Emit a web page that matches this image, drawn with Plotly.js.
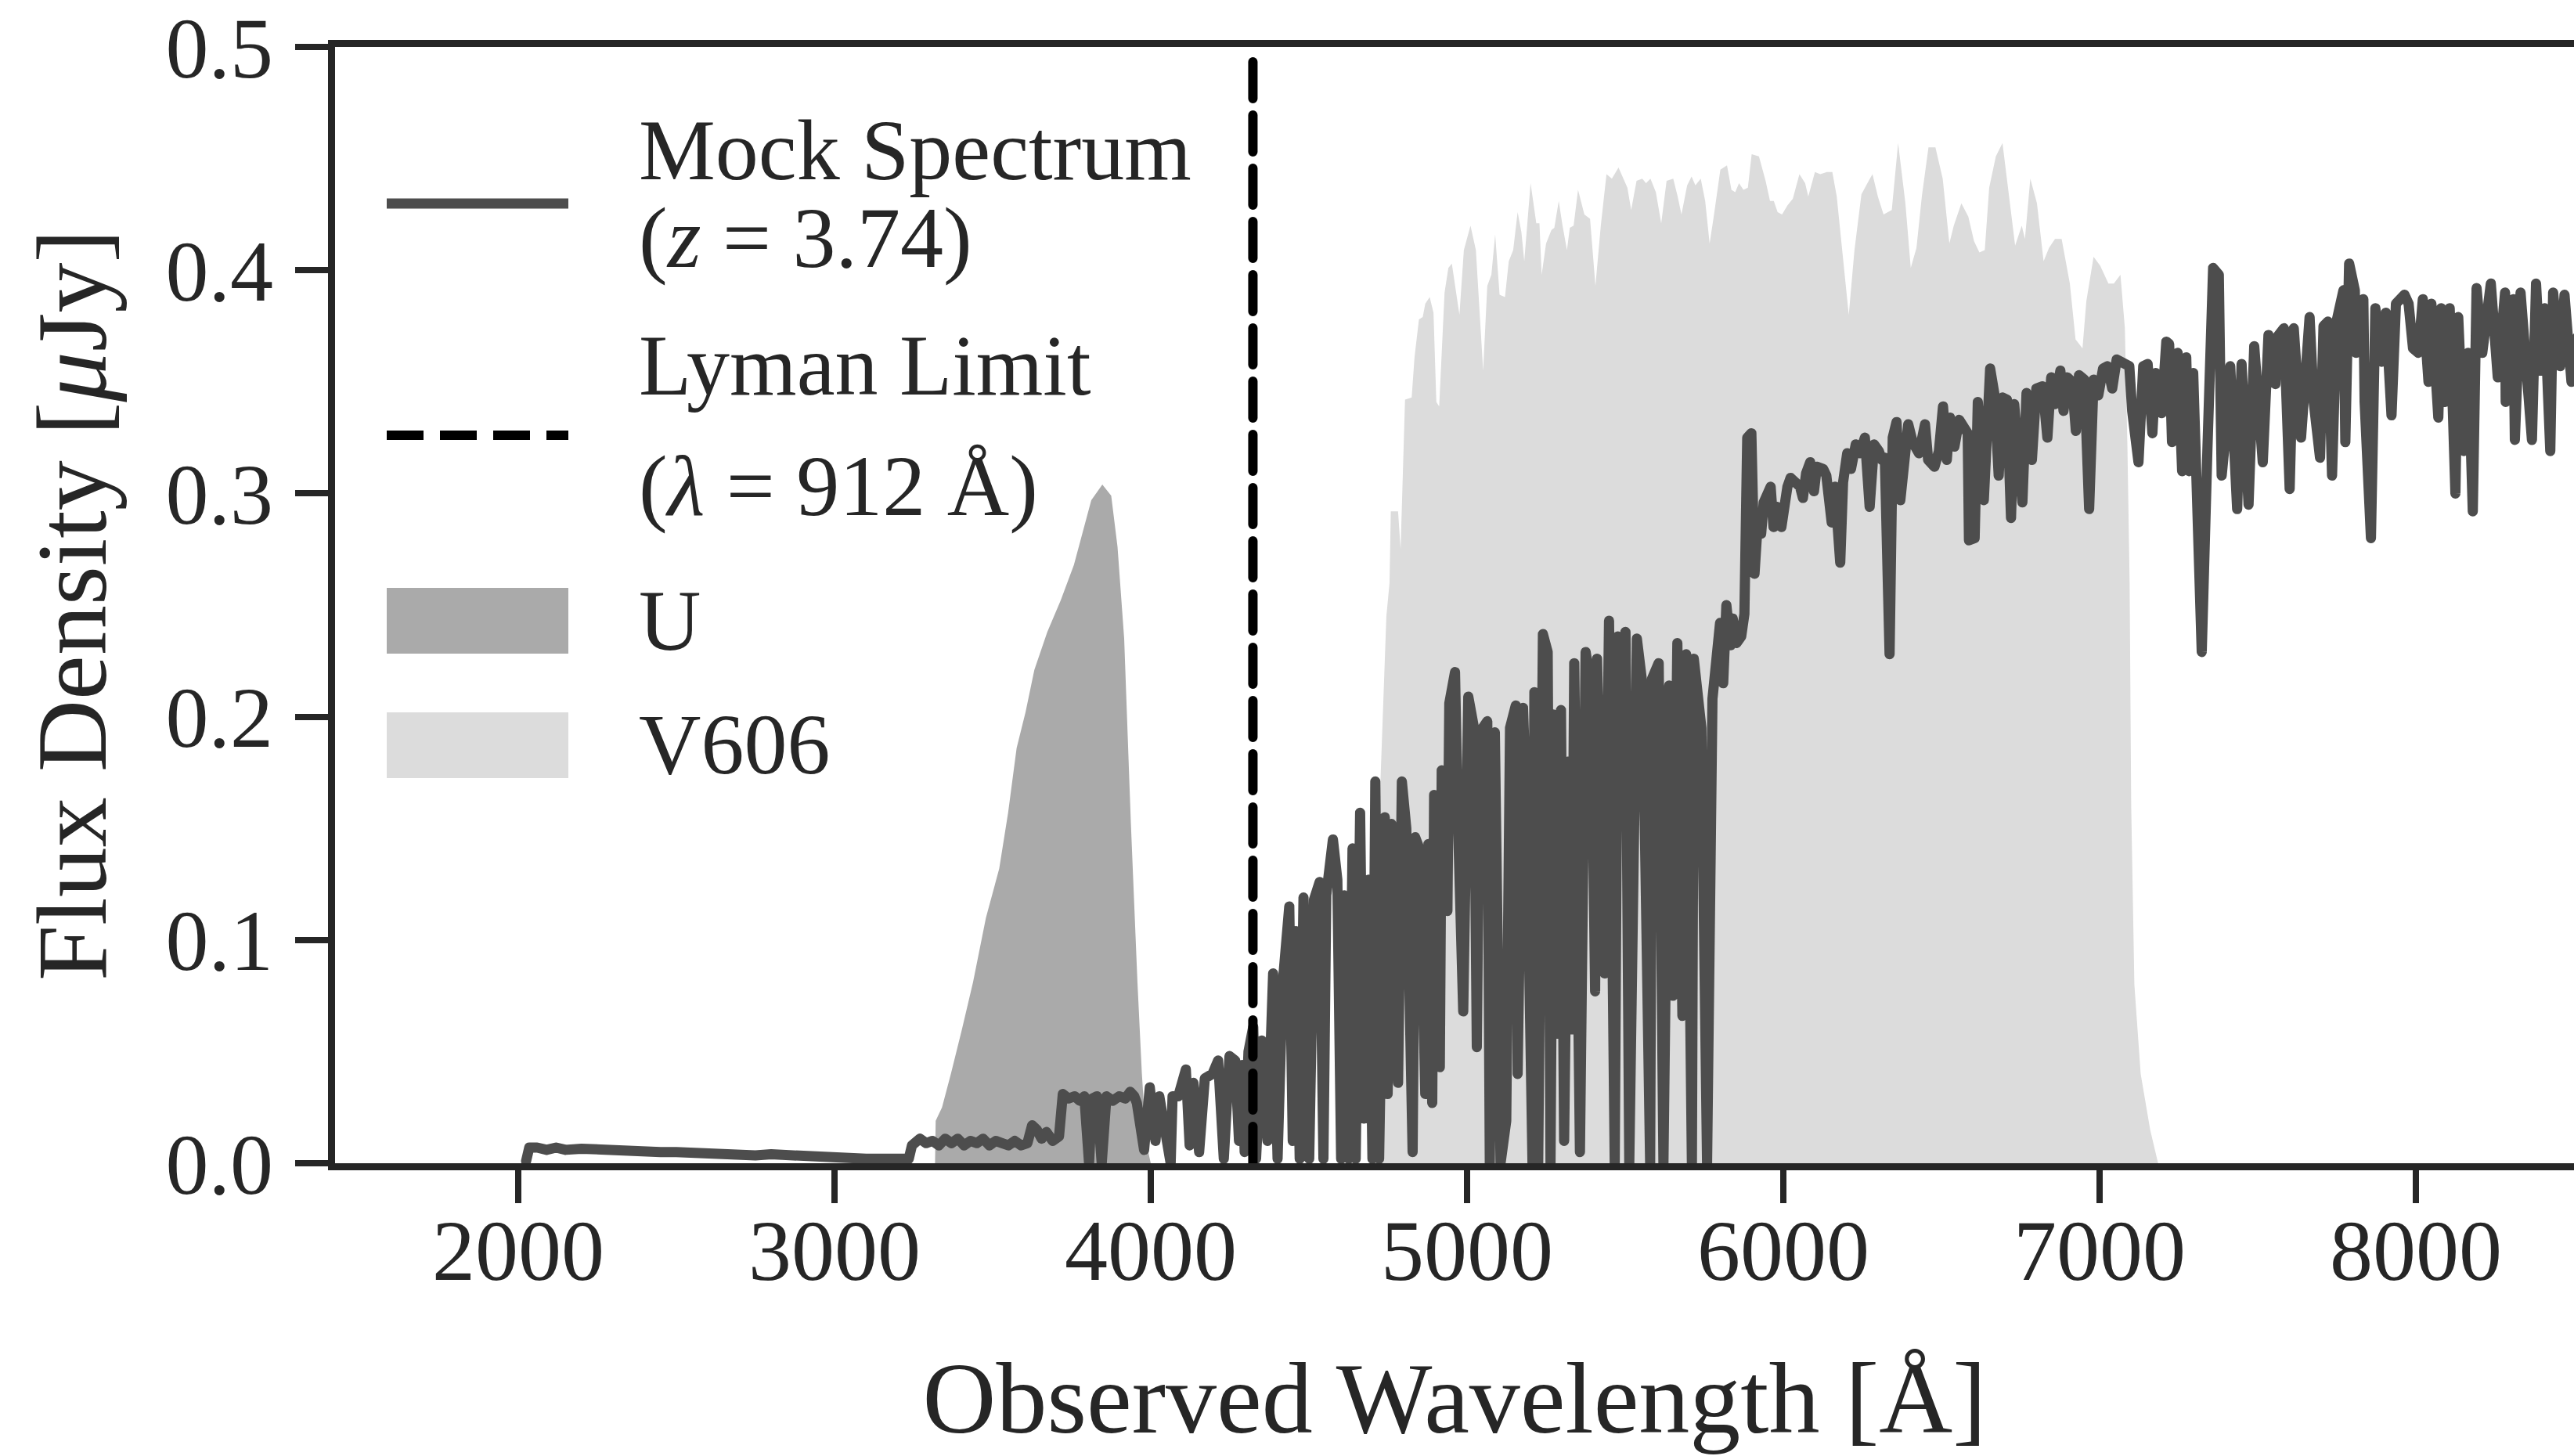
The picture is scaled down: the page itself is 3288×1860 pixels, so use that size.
<!DOCTYPE html>
<html><head><meta charset="utf-8">
<script src="https://cdn.plot.ly/plotly-3.0.1.min.js"></script>
<style>
html,body{margin:0;padding:0;background:#fff;}
#chart{width:3288px;height:1860px;}
.js-line{stroke-linejoin:round;stroke-linecap:round;}
</style></head><body><div id="chart"></div><script>
// ---------------- data ----------------
const specX = [2025,2035,2060,2090,2120,2150,2200,2250,2300,2350,2400,2450,2500,2550,2600,2650,2700,2750,2800,2850,2900,2950,3000,3050,3100,3150,3200,3235,
3245,3270,3290,3310,3330,3350,3370,3390,3410,3430,3450,3470,3490,3510,3530,3550,3570,3590,3610,3625,3640,3655,3670,3690,3710,
3722,3740,3760,3775,3790,3805,3815,3830,3845,3860,3880,3900,3920,3935,3948,
3956,3979,3997,4015,4027,4063,4069,4087,4111,4123,4135,4153,4171,4195,4213,4231,4249,4267,4279,4289,4297,4309,4324,4333,4351,4369,4387,4401,4417,4438,4449,4459,4471,4483,4501,4516,4534,4546,4555,4576,4590,4602,4612,4626,4638,4648,4662,4674,4689,4701,4710,4722,4740,4749,4761,4782,4794,4808,4828,4836,4852,4868,4878,4890,4896,4914,4920,4938,4944,4962,4971,4988,5004,5022,5031,5040,5064,5072,5088,5106,5124,5136,5154,5160,5177,5189,5207,5213,5225,5240,5255,5264,5273,5285,5297,5307,5321,5331,5339,5357,5375,5393,5405,5411,5435,5449,5467,5477,5495,5501,5513,5537,5555,5579,5585,5606,5621,5639,5651,5665,5681,5693,5711,5717,5741,5759,
5776,5788,5800,5810,5820,5833,5840,5852,5867,5877,5886,5899,5909,
5921,5930,5938,5950,5960,5969,5979,5994,6004,6013,6023,6038,6053,6062,6072,6085,6097,6106,6126,6136,6145,6153,6163,6180,6189,6202,6214,6229,6241,6258,6273,6287,6302,6312,6321,6336,6346,6358,6370,6385,6395,6409,6429,6448,6458,6478,6492,6505,6517,6527,6541,6556,6571,6583,6587,6605,6615,6626,6634,6654,6668,6681,6693,6707,6720,6730,6742,6756,6769,6786,6800,6820,6835,6847,6859,6876,6886,6898,6913,6925,6935,6952,6967,6981,6996,7011,7025,7040,7054,7074,7094,7103,7123,7138,7152,7167,7177,7196,7211,
7220,7229,7247,7261,7274,7283,7296,7305,7323,7341,7359,7377,7386,7399,7413,7435,7449,7471,7489,7516,7534,7556,7561,7583,7601,7614,7637,7664,7677,7697,7708,7722,7735,7749,7771,7777,7789,7807,7811,7834,7838,7858,7872,7892,7905,7923,7937,7964,7977,7991,8008,8022,8040,8049,8071,8080,8093,8107,8125,8134,8152,8165,8180,8192,8210,8237,8259,8282,8284,8308,8313,8331,8349,8367,8380,8394,8407,8425,8434,8456,8470,8492,8510];
const specY = [0.001,0.007,0.007,0.006,0.007,0.006,0.0065,0.006,0.0055,0.006,0.0055,0.005,0.005,0.0045,0.005,0.0045,0.004,0.0035,0.004,0.0035,0.003,0.003,0.0025,0.0025,0.002,0.002,0.002,0.002,
0.008,0.011,0.009,0.010,0.008,0.011,0.009,0.011,0.008,0.010,0.009,0.011,0.008,0.010,0.009,0.008,0.010,0.008,0.009,0.017,0.015,0.011,0.014,0.010,0.012,
0.031,0.029,0.030,0.028,0.030,0.000,0.029,0.030,0.000,0.030,0.028,0.030,0.029,0.032,0.030,
0.027,0.006,0.034,0.010,0.030,0.000,0.030,0.030,0.042,0.008,0.036,0.005,0.038,0.040,0.046,0.002,0.048,0.046,0.010,0.044,0.005,0.050,0.061,0.002,0.055,0.010,0.085,0.002,0.080,0.115,0.010,0.104,0.002,0.119,0.002,0.118,0.126,0.002,0.120,0.145,0.127,0.002,0.120,0.002,0.141,0.002,0.157,0.020,0.127,0.002,0.171,0.002,0.155,0.031,0.152,0.036,0.171,0.150,0.005,0.146,0.140,0.031,0.143,0.027,0.165,0.043,0.176,0.113,0.206,0.220,0.155,0.068,0.209,0.195,0.052,0.193,0.198,0.000,0.193,0.000,0.019,0.195,0.205,0.040,0.204,0.155,0.000,0.211,0.000,0.237,0.229,0.000,0.201,0.058,0.203,0.010,0.180,0.060,0.224,0.005,0.229,0.213,0.077,0.226,0.085,0.243,0.000,0.236,0.164,0.238,0.000,0.235,0.214,0.000,0.217,0.224,0.000,0.214,0.075,0.233,0.066,0.228,0.000,0.226,0.195,0.000,
0.208,0.231,0.242,0.215,0.250,0.232,0.244,0.233,0.236,0.246,0.325,0.327,0.264,
0.291,0.282,0.296,0.301,0.303,0.285,0.294,0.285,0.298,0.303,0.307,0.305,0.303,0.298,0.309,0.314,0.301,0.312,0.311,0.308,0.291,0.287,0.303,0.269,0.305,0.318,0.311,0.322,0.318,0.325,0.294,0.322,0.319,0.315,0.316,0.228,0.325,0.332,0.297,0.327,0.331,0.323,0.318,0.331,0.315,0.312,0.319,0.339,0.315,0.334,0.321,0.333,0.330,0.327,0.279,0.280,0.341,0.305,0.297,0.356,0.344,0.308,0.343,0.342,0.289,0.340,0.319,0.296,0.345,0.315,0.347,0.348,0.325,0.352,0.340,0.355,0.337,0.352,0.350,0.328,0.353,0.351,0.293,0.351,0.344,0.356,0.357,0.347,0.360,0.358,0.357,0.337,0.314,0.357,0.358,0.327,0.354,0.336,0.368,
0.367,0.323,0.363,0.310,0.361,0.310,0.354,0.308,0.229,0.320,0.401,0.398,0.308,0.327,0.357,0.293,0.358,0.295,0.366,0.314,0.371,0.349,0.370,0.374,0.302,0.374,0.325,0.379,0.341,0.316,0.375,0.377,0.308,0.377,0.391,0.323,0.403,0.391,0.363,0.387,0.341,0.280,0.383,0.359,0.381,0.335,0.385,0.389,0.385,0.365,0.363,0.387,0.350,0.385,0.334,0.383,0.341,0.383,0.300,0.379,0.319,0.363,0.292,0.392,0.363,0.394,0.352,0.390,0.341,0.387,0.324,0.390,0.358,0.324,0.394,0.355,0.383,0.319,0.390,0.357,0.389,0.350,0.370];

const uX = [3318,3320,3340,3368,3403,3438,3479,3521,3549,3576,3604,3632,3673,3715,3757,3784,3812,3847,3875,3895,3916,3937,3958,3972,3986,4000];
const uY = [0,0.019,0.025,0.040,0.060,0.081,0.110,0.132,0.157,0.186,0.202,0.221,0.238,0.252,0.268,0.282,0.297,0.304,0.299,0.276,0.235,0.153,0.081,0.040,0.009,0];

const vX = [4712,4720,4726,4734,4745,4755,4759,4782,4790,4804,4825,4834,4848,4860,4868,4882,4894,4903,4912,4929,4941,4952,4976,4990,4999,5011,5028,5051,5064,5077,5089,5103,5120,5132,5146,5160,5172,5181,5201,5219,5229,5236,5250,5267,5276,5290,5302,5316,5325,5337,5351,5371,5389,5406,5423,5441,5458,5479,5507,5519,5536,5554,5566,5580,5597,5614,5631,5652,5666,5678,5696,5710,5722,5739,5753,5767,5779,5801,5822,5836,5848,5860,5874,5888,5900,5923,5944,5958,5970,5982,5996,6013,6030,6051,6069,6079,6100,6117,6138,6155,6169,6187,6207,6225,6247,6270,6282,6299,6317,6343,6363,6386,6403,6421,6438,6459,6481,6504,6525,6539,6563,6585,6603,6620,6637,6651,6672,6693,6715,6733,6754,6764,6781,6802,6823,6840,6859,6880,6906,6924,6946,6958,6981,7002,7028,7045,7066,7080,7088,7095,7100,7110,7130,7160,7185];
const vY = [0,0.12,0.17,0.20,0.245,0.26,0.292,0.292,0.275,0.342,0.343,0.361,0.378,0.379,0.385,0.388,0.381,0.341,0.339,0.390,0.401,0.403,0.380,0.409,0.414,0.420,0.409,0.355,0.393,0.398,0.416,0.389,0.388,0.404,0.409,0.426,0.417,0.404,0.439,0.421,0.421,0.398,0.412,0.418,0.419,0.431,0.420,0.409,0.419,0.420,0.436,0.425,0.423,0.393,0.420,0.443,0.441,0.446,0.437,0.427,0.440,0.441,0.439,0.441,0.435,0.421,0.440,0.441,0.433,0.425,0.438,0.442,0.438,0.441,0.431,0.412,0.423,0.445,0.447,0.436,0.435,0.439,0.436,0.437,0.452,0.451,0.440,0.431,0.431,0.426,0.425,0.429,0.432,0.443,0.439,0.433,0.444,0.443,0.444,0.444,0.433,0.408,0.380,0.409,0.434,0.440,0.443,0.433,0.425,0.427,0.457,0.430,0.401,0.410,0.433,0.455,0.455,0.441,0.412,0.420,0.430,0.424,0.413,0.408,0.409,0.437,0.451,0.457,0.431,0.411,0.420,0.414,0.441,0.430,0.404,0.410,0.414,0.414,0.394,0.369,0.365,0.386,0.406,0.402,0.394,0.394,0.398,0.374,0.321,0.26,0.16,0.08,0.04,0.015,0];

const lymanX = [4323, 4323];
const lymanY = [0, 0.5];

const xTickVals = [2000,3000,4000,5000,6000,7000,8000];
const xTickText = ['2000','3000','4000','5000','6000','7000','8000'];
const yTickVals = [0,0.1,0.2,0.3,0.4,0.5];
const yTickText = ['0.0','0.1','0.2','0.3','0.4','0.5'];

const legendLabels = ['Mock Spectrum','(<i>z</i> = 3.74)','Lyman Limit','(<i>λ</i> = 912 Å)','U','V606'];

// ---------------- layout ----------------
const W = 3288, H = 1860;
const M = {l:428, r:0, t:60, b:374, pad:0};
const px2x = p => (p - M.l) / (W - M.l - M.r);
const py2y = p => (H - M.b - p) / (H - M.t - M.b);

const FONT = 'Liberation Serif, Times New Roman, serif';
const INK = '#262626';
const SPEC = '#4d4d4d';
const UCOL = '#aaaaaa';
const VCOL = '#dcdcdc';

const traces = [
  {x:uX, y:uY, type:'scatter', mode:'lines', fill:'tozeroy', fillcolor:UCOL, line:{width:0, color:UCOL}, hoverinfo:'skip', showlegend:false},
  {x:vX, y:vY, type:'scatter', mode:'lines', fill:'tozeroy', fillcolor:VCOL, line:{width:0, color:VCOL}, hoverinfo:'skip', showlegend:false},
  {x:specX, y:specY, type:'scatter', mode:'lines', line:{width:13, color:SPEC}, hoverinfo:'skip', showlegend:false},
  {x:lymanX, y:lymanY, type:'scatter', mode:'lines', line:{width:12, color:'#000000', dash:'47px,21px'}, hoverinfo:'skip', showlegend:false}
];

// manual legend (pixel layout converted to paper coordinates)
const LX0 = 494, LX1 = 726, TX = 814;
const shapes = [
  {type:'line', xref:'paper', yref:'paper', x0:px2x(LX0), x1:px2x(LX1), y0:py2y(260), y1:py2y(260), line:{color:SPEC, width:13}},
  {type:'line', xref:'paper', yref:'paper', x0:px2x(LX0), x1:px2x(LX1), y0:py2y(556), y1:py2y(556), line:{color:'#000000', width:12, dash:'47px,21px'}},
  {type:'rect', xref:'paper', yref:'paper', x0:px2x(LX0), x1:px2x(LX1), y0:py2y(835), y1:py2y(751), fillcolor:UCOL, line:{width:0}},
  {type:'rect', xref:'paper', yref:'paper', x0:px2x(LX0), x1:px2x(LX1), y0:py2y(994), y1:py2y(910), fillcolor:VCOL, line:{width:0}}
];
const textY = [192, 304, 467, 621, 793, 951];
const annotations = legendLabels.map((t, i) => ({
  text:t, xref:'paper', yref:'paper', x:px2x(TX), y:py2y(textY[i]),
  xanchor:'left', yanchor:'middle', showarrow:false,
  font:{family:FONT, size:110, color:INK}
}));

const axisCommon = {
  ticks:'outside', ticklen:42, tickwidth:8, tickcolor:INK,
  showline:true, linewidth:9, linecolor:INK,
  showgrid:false, zeroline:false, automargin:false,
  tickfont:{family:FONT, size:110, color:INK}
};

const layout = {
  width:W, height:H, margin:M,
  paper_bgcolor:'#ffffff', plot_bgcolor:'#ffffff',
  font:{family:FONT, color:INK},
  showlegend:false,
  xaxis:Object.assign({}, axisCommon, {
    range:[1421, 8500], tickmode:'array', tickvals:xTickVals, ticktext:xTickText, mirror:true,
    ticklabelstandoff:-34,
    title:{text:'Observed Wavelength [Å]', font:{family:FONT, size:130, color:INK}, standoff:84}
  }),
  yaxis:Object.assign({}, axisCommon, {
    range:[0, 0.5], tickmode:'array', tickvals:yTickVals, ticktext:yTickText, mirror:false,
    ticklabelstandoff:6,
    title:{text:'Flux Density [<i>μ</i>Jy]', font:{family:FONT, size:128, color:INK}, standoff:36}
  }),
  shapes:shapes,
  annotations:annotations
};

Plotly.newPlot('chart', traces, layout, {staticPlot:true, displayModeBar:false});
</script></body></html>
